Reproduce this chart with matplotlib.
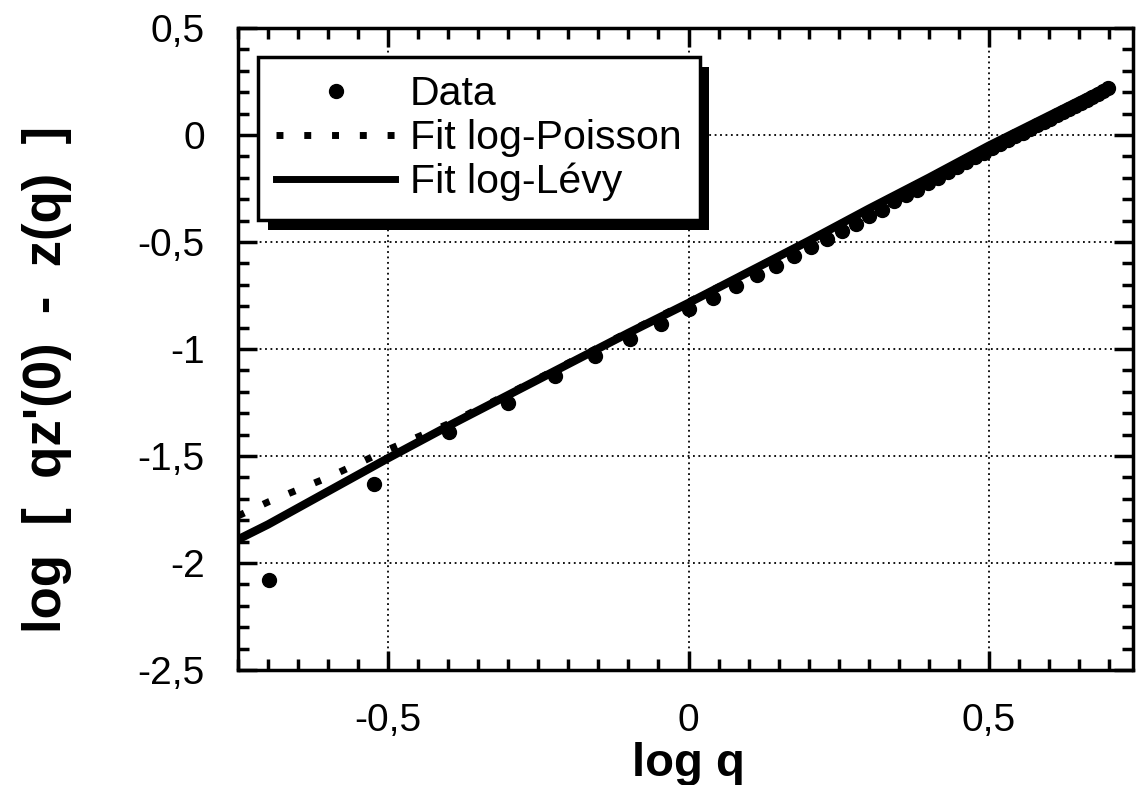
import numpy as np
import matplotlib
matplotlib.use('Agg')
import matplotlib.pyplot as plt
import matplotlib.patheffects as pe
from matplotlib.lines import Line2D

plt.rcParams['font.family'] = ['Liberation Sans', 'DejaVu Sans']

# donnees : q et log[ q z'(0) - z(q) ]
q = [0.2, 0.3, 0.4, 0.5, 0.6, 0.7, 0.8, 0.9, 1.0, 1.1, 1.2, 1.3, 1.4, 1.5,
     1.6, 1.7, 1.8, 1.9, 2.0, 2.1, 2.2, 2.3, 2.4, 2.5, 2.6, 2.7, 2.8, 2.9,
     3.0, 3.1, 3.2, 3.3, 3.4, 3.5, 3.6, 3.7, 3.8, 3.9, 4.0, 4.1, 4.2, 4.3,
     4.4, 4.5, 4.6, 4.7, 4.8, 4.9, 5.0]
data_y = [-2.08, -1.63, -1.39, -1.25, -1.125, -1.035, -0.955, -0.885, -0.815, -0.76,
          -0.705, -0.655, -0.61, -0.565, -0.525, -0.485, -0.45, -0.415, -0.38, -0.35,
          -0.31, -0.28, -0.255, -0.225, -0.20, -0.175, -0.15, -0.127, -0.105, -0.085,
          -0.063, -0.043, -0.025, -0.007, 0.01, 0.027, 0.045, 0.06, 0.076, 0.092,
          0.107, 0.121, 0.136, 0.15, 0.165, 0.178, 0.192, 0.205, 0.22]

# courbes d'ajustement
fit_logq = [-0.75, -0.7, -0.6, -0.5, -0.4, -0.3, -0.2, -0.1, 0.0, 0.1, 0.2, 0.3, 0.4, 0.5, 0.6, 0.7]
fit_poisson = [-1.78, -1.715, -1.60, -1.47, -1.35, -1.21, -1.065, -0.92, -0.78, -0.64,
               -0.495, -0.345, -0.20, -0.05, 0.09, 0.23]
fit_levy = [-1.89, -1.82, -1.665, -1.51, -1.36, -1.215, -1.07, -0.925, -0.785, -0.64,
            -0.495, -0.345, -0.20, -0.05, 0.09, 0.23]

x_ticks = [-0.5, 0, 0.5]
x_labels = ['-0,5', '0', '0,5']
y_ticks = [-2.5, -2, -1.5, -1, -0.5, 0, 0.5]
y_labels = ['-2,5', '-2', '-1,5', '-1', '-0,5', '0', '0,5']

fig = plt.figure(figsize=(11.37, 7.85), dpi=100)
ax = fig.add_axes([238/1137, 1 - 670/785, (1133 - 238)/1137, (670 - 28)/785])

logq = np.log10(q)
ax.plot(fit_logq, fit_poisson, color='black', lw=5, linestyle=(0, (1, 3)),
        dash_capstyle='butt', zorder=3)
ax.plot(fit_logq, fit_levy, color='black', lw=6, solid_capstyle='round', zorder=4)
ax.plot(logq, data_y, 'o', color='black', ms=10, zorder=5)

ax.set_xlim(-0.75, 0.74)
ax.set_ylim(-2.5, 0.5)

ax.set_xticks(x_ticks)
ax.set_xticklabels(x_labels)
ax.set_yticks(y_ticks)
ax.set_yticklabels(y_labels)
ax.set_xticks(np.arange(-0.75, 0.74, 0.05), minor=True)
ax.set_yticks(np.arange(-2.5, 0.51, 0.1), minor=True)
ax.tick_params(which='both', direction='in', top=True, right=True, width=2.5, color='black')
ax.tick_params(which='major', length=14, labelsize=28, pad=24)
ax.tick_params(which='minor', length=8)
for s in ax.spines.values():
    s.set_linewidth(2.5)

ax.grid(True, which='major', color='black', linestyle=(0, (1, 2)), linewidth=1.3, zorder=1)
ax.set_axisbelow(True)

ax.set_xlabel('log q', fontsize=34, fontweight='bold')
ax.xaxis.set_label_coords(0.503, -0.112)
ax.set_ylabel("log  [  qz'(0)  -  z(q)  ]", fontsize=38, fontweight='bold')
ax.yaxis.set_label_coords(-0.186, 0.452)

handles = [
    Line2D([], [], marker='o', color='black', ls='none', ms=10),
    Line2D([], [], color='black', lw=5, linestyle=(0, (1, 3)), dash_capstyle='butt'),
    Line2D([], [], color='black', lw=5),
]
leg = ax.legend(handles, ['Data', 'Fit log-Poisson', 'Fit log-Lévy'],
                loc='upper left', bbox_to_anchor=(258/1137, 1 - 57/785),
                bbox_transform=fig.transFigure, fontsize=29.5, frameon=True,
                fancybox=False, edgecolor='black', framealpha=1,
                handlelength=2.9, handletextpad=0.35, labelspacing=0.14,
                borderpad=0.45, borderaxespad=0, numpoints=1)
leg.get_frame().set_linewidth(2.5)
leg.get_frame().set_path_effects([
    pe.SimplePatchShadow(offset=(7, -7), shadow_rgbFace='black', alpha=1),
    pe.Normal()])
leg.set_zorder(10)

fig.savefig('out.png', dpi=100)
